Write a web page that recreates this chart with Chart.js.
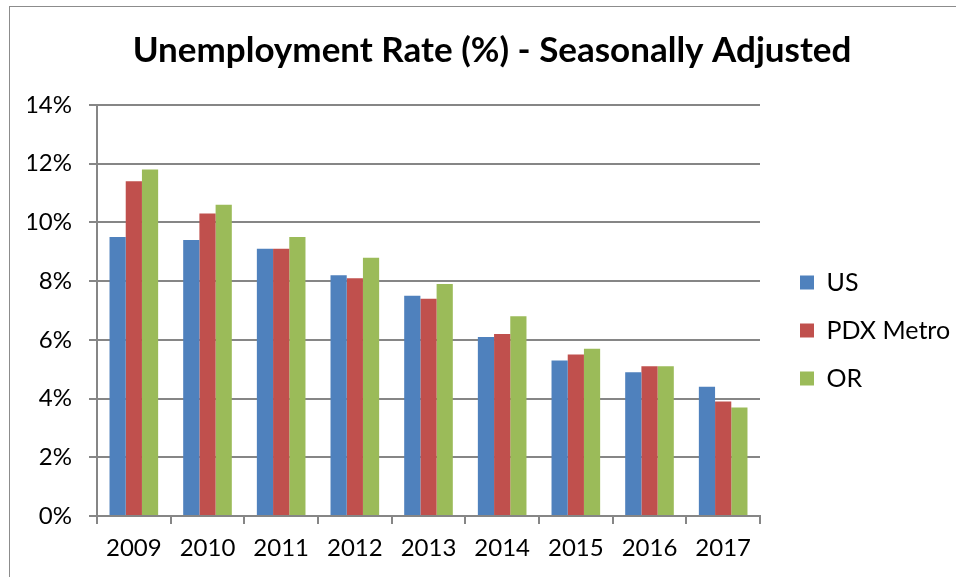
<!DOCTYPE html>
<html>
<head>
<meta charset="utf-8">
<script src="https://cdn.jsdelivr.net/npm/chart.js@4.4.0/dist/chart.umd.min.js"></script>
<style>
  html, body { margin: 0; padding: 0; background: #fff; overflow: hidden; }
  #frame {
    position: absolute; left: 9px; top: 6px;
    width: 960px; height: 590px;
    border: 1px solid #8c8c8c; box-sizing: border-box;
  }
  #wrap { position: absolute; left: 10px; top: 7px; width: 946px; height: 570px; }
</style>
</head>
<body>
<div id="frame"></div>
<div id="wrap"><canvas id="unemploymentChart"></canvas></div>
<script>
// Unemployment rate by year
const years = ["2009", "2010", "2011", "2012", "2013", "2014", "2015", "2016", "2017"];
const usRate = [9.5, 9.4, 9.1, 8.2, 7.5, 6.1, 5.3, 4.9, 4.4];
const pdxRate = [11.4, 10.3, 9.1, 8.1, 7.4, 6.2, 5.5, 5.1, 3.9];
const orRate = [11.8, 10.6, 9.5, 8.8, 7.9, 6.8, 5.7, 5.1, 3.7];

const fontFamily = "Lato, 'Open Sans', sans-serif";
const gridColor = "#868686";

const ctx = document.getElementById("unemploymentChart");
new Chart(ctx, {
  type: "bar",
  data: {
    labels: years,
    datasets: [
      {
        label: "US",
        data: usRate,
        backgroundColor: "#4F81BD",
        categoryPercentage: 0.66,
        barPercentage: 1,
      },
      {
        label: "PDX Metro",
        data: pdxRate,
        backgroundColor: "#C0504D",
        categoryPercentage: 0.66,
        barPercentage: 1,
      },
      {
        label: "OR",
        data: orRate,
        backgroundColor: "#9BBB59",
        categoryPercentage: 0.66,
        barPercentage: 1,
      },
    ],
  },
  options: {
    responsive: true,
    maintainAspectRatio: false,
    animation: false,
    layout: {
      padding: { left: 18, right: 0, top: 10, bottom: 0 },
    },
    plugins: {
      title: {
        display: true,
        text: "Unemployment Rate (%) - Seasonally Adjusted",
        color: "#000",
        font: { family: fontFamily, size: 35, weight: "bold" },
        padding: { top: 13, bottom: 33 },
      },
      legend: {
        display: true,
        position: "right",
        maxWidth: 179,
        title: {
          display: true,
          text: " ",
          font: { size: 10 },
          padding: { top: 0, bottom: 55 },
        },
        labels: {
          color: "#000",
          font: { family: fontFamily, size: 25 },
          boxWidth: 14,
          boxHeight: 14,
          padding: 23,
        },
      },
      tooltip: { enabled: false },
    },
    scales: {
      x: {
        grid: {
          drawOnChartArea: false,
          drawTicks: true,
          tickLength: 8,
          color: gridColor,
          lineWidth: 2,
        },
        border: { color: gridColor, width: 2 },
        ticks: {
          color: "#000",
          font: { family: fontFamily, size: 24 },
          padding: 10,
        },
        afterFit: function (scale) {
          scale.height = 61;
        },
      },
      y: {
        min: 0,
        max: 14,
        ticks: {
          stepSize: 2,
          color: "#000",
          font: { family: fontFamily, size: 24 },
          padding: 17,
          callback: function (value) {
            return value + "%";
          },
        },
        grid: {
          color: gridColor,
          lineWidth: 2,
          tickLength: 8,
        },
        border: { color: gridColor, width: 2 },
        afterFit: function (scale) {
          scale.width = 69;
        },
      },
      // empty axis only used as a spacer between plot and legend
      spacer: {
        position: "right",
        display: true,
        ticks: { display: false },
        grid: { display: false },
        border: { display: false },
        afterFit: function (scale) {
          scale.width = 17;
        },
      },
    },
  },
});
</script>
</body>
</html>
